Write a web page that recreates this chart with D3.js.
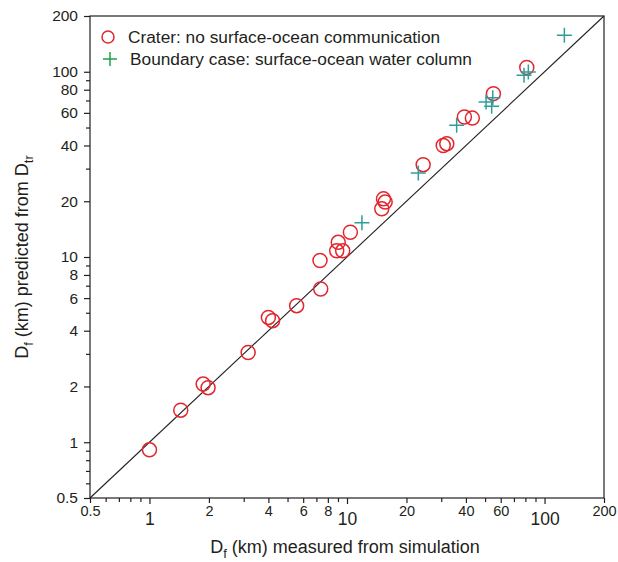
<!DOCTYPE html>
<html>
<head>
<meta charset="utf-8">
<script src="https://cdn.jsdelivr.net/npm/d3@7"></script>
<style>
  body { margin: 0; background: #fff; }
  svg { font-family: "Liberation Sans", Arial, sans-serif; }
  .axis path, .axis line { stroke: #231f20; }
  .axis text { fill: #231f20; }
</style>
</head>
<body>
<svg id="chart" width="618" height="562"></svg>
<script>
// --- data ---
const craterMeasured  = [1.0, 1.44, 1.87, 1.98, 3.16, 4.0, 4.2, 5.56, 7.36, 7.3, 9.03, 8.87, 9.51, 10.4, 15.0, 15.3, 15.6, 24.3, 30.7, 32.0, 39.3, 43.1, 55.1, 81.3];
const craterPredicted = [0.91, 1.49, 2.06, 1.97, 3.05, 4.72, 4.53, 5.46, 6.72, 9.57, 12.0, 10.8, 10.8, 13.6, 18.2, 20.6, 19.8, 31.5, 40.0, 40.9, 57.0, 56.2, 76.2, 105.4];
const boundaryMeasured  = [11.9, 22.96, 35.9, 50.6, 54.0, 54.7, 78.7, 82.8, 126];
const boundaryPredicted = [15.3, 28.4, 51.4, 68.7, 65.1, 72.5, 95.7, 99.7, 157.5];

const domain = [0.5, 200];
const xLabelTicks = [0.5, 2, 4, 6, 8, 20, 40, 60, 200];
const xBigTicks = [1, 10, 100];
const yLabelTicks = [0.5, 1, 2, 4, 6, 8, 10, 20, 40, 60, 80, 100, 200];
const minorTicks = [0.6, 0.7, 0.8, 0.9, 3, 5, 7, 9, 30, 50, 70, 90];
const xMinorTicks = [0.6, 0.7, 0.8, 0.9, 3, 5, 7, 9, 30, 50, 70, 80, 90];

const legendLabels = ['Crater: no surface-ocean communication', 'Boundary case: surface-ocean water column'];

const red = '#e3262e', teal = '#2f9e9a', green = '#1ea04a', ink = '#231f20';

const margin = { left: 90, top: 16 };
const width = 514, height = 482;

const svg = d3.select('#chart');
const g = svg.append('g').attr('transform', `translate(${margin.left},${margin.top})`);

const x = d3.scaleLog().domain(domain).range([0, width]);
const y = d3.scaleLog().domain(domain).range([height, 0]);

const fmt = d => String(d);

// frame
g.append('rect')
    .attr('width', width).attr('height', height)
    .attr('fill', 'none').attr('stroke', ink).attr('stroke-width', 1.2);

// x axis: minor, labelled, and big 1/10/100
const xAxisG = g.append('g').attr('class', 'axis').attr('transform', `translate(0,${height})`);
xAxisG.append('g').call(d3.axisBottom(x).tickValues(xMinorTicks).tickSize(4).tickFormat(''));
xAxisG.append('g').call(d3.axisBottom(x).tickValues(xLabelTicks).tickSize(5).tickPadding(3).tickFormat(fmt))
    .selectAll('text').attr('font-size', 14.5);
xAxisG.append('g').call(d3.axisBottom(x).tickValues(xBigTicks).tickSize(6).tickPadding(9).tickFormat(fmt))
    .selectAll('text').attr('font-size', 17.5);
xAxisG.selectAll('path.domain').remove();

// y axis
const yAxisG = g.append('g').attr('class', 'axis');
yAxisG.append('g').call(d3.axisLeft(y).tickValues(minorTicks).tickSize(4).tickFormat(''));
yAxisG.append('g').call(d3.axisLeft(y).tickValues(yLabelTicks).tickSize(6).tickPadding(6).tickFormat(fmt))
    .selectAll('text').attr('font-size', 15.5);
yAxisG.selectAll('path.domain').remove();
g.selectAll('.axis line').attr('stroke-width', 1.2);

// 1:1 line
g.append('line')
    .attr('x1', x(domain[0])).attr('y1', y(domain[0]))
    .attr('x2', x(domain[1])).attr('y2', y(domain[1]))
    .attr('stroke', ink).attr('stroke-width', 1.1);

// crater circles
g.selectAll('.crater')
    .data(craterMeasured.map((m, i) => [m, craterPredicted[i]]))
    .enter().append('circle')
    .attr('class', 'crater')
    .attr('cx', d => x(d[0])).attr('cy', d => y(d[1]))
    .attr('r', 7)
    .attr('fill', 'none').attr('stroke', red).attr('stroke-width', 1.5);

// boundary crosses
const cross = (sel, size) => sel.attr('d', `M${-size},0H${size}M0,${-size}V${size}`);
g.selectAll('.boundary')
    .data(boundaryMeasured.map((m, i) => [m, boundaryPredicted[i]]))
    .enter().append('path')
    .attr('class', 'boundary')
    .attr('transform', d => `translate(${x(d[0])},${y(d[1])})`)
    .call(cross, 7.5)
    .attr('fill', 'none').attr('stroke', teal).attr('stroke-width', 1.5);

// legend
const legend = svg.append('g');
legend.append('circle').attr('cx', 108).attr('cy', 37).attr('r', 6)
    .attr('fill', 'none').attr('stroke', red).attr('stroke-width', 1.5);
legend.append('path').attr('transform', 'translate(110,59)').call(cross, 7)
    .attr('fill', 'none').attr('stroke', green).attr('stroke-width', 1.5);
legend.selectAll('text')
    .data(legendLabels)
    .enter().append('text')
    .attr('x', (d, i) => i === 0 ? 128 : 130)
    .attr('y', (d, i) => 43 + i * 21.5)
    .attr('font-size', 17.3).attr('fill', ink)
    .text(d => d);

// axis titles
const xTitle = svg.append('text')
    .attr('x', 345).attr('y', 553)
    .attr('text-anchor', 'middle').attr('font-size', 18).attr('fill', ink);
xTitle.append('tspan').text('D');
xTitle.append('tspan').attr('font-size', 13).attr('dy', 5).text('f');
xTitle.append('tspan').attr('dy', -5).text(' (km) measured from simulation');

const yTitle = svg.append('text')
    .attr('transform', 'translate(28,257) rotate(-90)')
    .attr('text-anchor', 'middle').attr('font-size', 18).attr('fill', ink);
yTitle.append('tspan').text('D');
yTitle.append('tspan').attr('font-size', 13).attr('dy', 5).text('f');
yTitle.append('tspan').attr('dy', -5).text(' (km) predicted from D');
yTitle.append('tspan').attr('font-size', 13).attr('dy', 5).text('tr');
</script>
</body>
</html>
